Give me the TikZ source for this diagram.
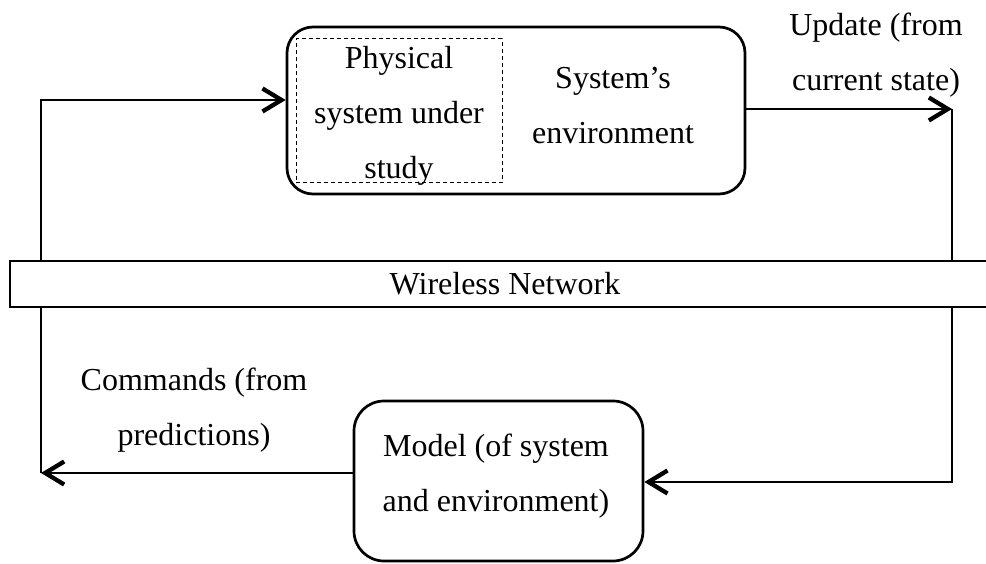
\documentclass[tikz,border=0pt]{standalone}
\usepackage{fontspec}
\setmainfont{Liberation Serif}
\usetikzlibrary{arrows.meta,backgrounds}
\begin{document}
\begin{tikzpicture}[x=1pt,y=1pt,
  font=\fontsize{32}{55}\selectfont,
  block/.style={draw,line width=2.7pt,rounded corners=26pt,inner sep=0pt},
  inner/.style={draw,line width=1pt,dash pattern=on 4pt off 3pt,inner sep=0pt},
  label/.style={align=center,inner sep=0pt},
  wire/.style={line width=2.7pt},
  barb/.style={-{Straight Barb[length=19pt,width=23pt,line width=4.3pt]}}]
\useasboundingbox (0,0) rectangle (986,-564);

% system block with the physical system inside
\node[block,minimum width=458pt,minimum height=167pt] (sys) at (516,-110.5) {};
\node[inner,minimum width=206pt,minimum height=144pt] (phys) at (399,-111) {};
\node[label] (phystext) at (399,-116) {Physical\\system under\\study};
\node[label] (envtext) at (613,-106) {System’s\\environment};

% model block
\node[block,minimum width=289pt,minimum height=160pt,rounded corners=30pt] (model) at (498.5,-481) {};
\node[label] (modeltext) at (496,-476) {Model (of system\\and environment)};

% network bar
\node[draw,fill=white,line width=1.5pt,minimum width=990pt,minimum height=46pt,inner sep=0pt,anchor=west] (net) at (9,-284) {};
\node[label] (nettext) at (505,-284) {Wireless Network};

% arrow labels
\node[label] (upd) at (876,-55) {Update (from\\current state)};
\node[label] (cmd) at (194,-410) {Commands (from\\predictions)};

% loop corners
\coordinate (bl) at (41,-473);
\coordinate (tl) at (41,-100);
\coordinate (tr) at (952,-109);
\coordinate (br) at (952,-482);

\begin{scope}[on background layer]
\draw[wire,barb] (model.west |- bl) -- (bl);
\draw[wire,barb] (bl) -- (tl) -- (sys.west |- tl);
\draw[wire,barb] (sys.east |- tr) -- (tr);
\draw[wire,barb] (tr) -- (br) -- (model.east |- br);
\end{scope}
\end{tikzpicture}
\end{document}
